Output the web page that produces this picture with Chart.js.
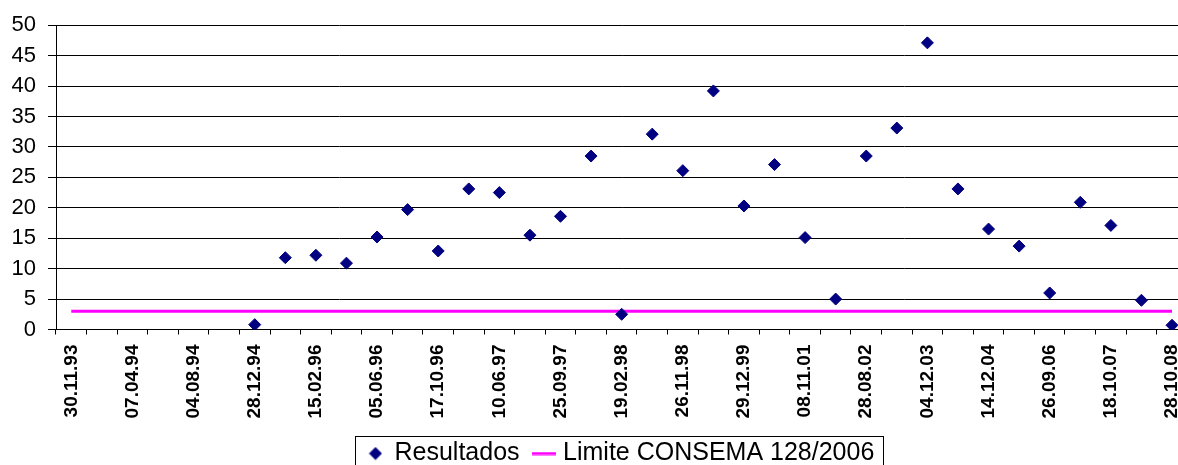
<!DOCTYPE html>
<html>
<head>
<meta charset="utf-8">
<script src="https://cdn.jsdelivr.net/npm/chart.js@4/dist/chart.umd.min.js"></script>
<style>
  html, body { margin: 0; padding: 0; background: #fff; overflow: hidden; }
  #wrap { width: 1178px; height: 465px; overflow: hidden; position: relative; }
  canvas { display: block; }
</style>
</head>
<body>
<div id="wrap"><canvas id="c" width="1205" height="473"></canvas></div>
<script>
// Sampling dates (only every second one is printed on the axis)
const dates = [
  '30.11.93', '', '07.04.94', '', '04.08.94', '', '28.12.94', '', '15.02.96', '',
  '05.06.96', '', '17.10.96', '', '10.06.97', '', '25.09.97', '', '19.02.98', '',
  '26.11.98', '', '29.12.99', '', '08.11.01', '', '28.08.02', '', '04.12.03', '',
  '14.12.04', '', '26.09.06', '', '18.10.07', '', '28.10.08'
];

// Measured results
const resultados = [
  null, null, null, null, null, null, 0.8, 11.8, 12.2, 10.9,
  15.2, 19.7, 12.9, 23.1, 22.5, 15.5, 18.6, 28.5, 2.5, 32.1,
  26.1, 39.2, 20.3, 27.1, 15.1, 5.0, 28.5, 33.1, 47.1, 23.1,
  16.5, 13.7, 6.0, 20.9, 17.1, 4.8, 0.7
];

// Legal limit (CONSEMA 128/2006)
const limite = [
  3, 3, 3, 3, 3, 3, 3, 3, 3, 3,
  3, 3, 3, 3, 3, 3, 3, 3, 3, 3,
  3, 3, 3, 3, 3, 3, 3, 3, 3, 3,
  3, 3, 3, 3, 3, 3, 3
];

const yTicks = { min: 0, max: 50, step: 5 };

const NAVY = '#000080';
const MAGENTA = '#FF00FF';

// Small legend symbols
function diamondSymbol() {
  const c = document.createElement('canvas');
  c.width = 14; c.height = 14;
  const g = c.getContext('2d');
  g.fillStyle = NAVY;
  g.beginPath();
  g.moveTo(7, 0.5); g.lineTo(13.5, 7); g.lineTo(7, 13.5); g.lineTo(0.5, 7);
  g.closePath(); g.fill();
  return c;
}
function lineSymbol() {
  const c = document.createElement('canvas');
  c.width = 24; c.height = 4;
  const g = c.getContext('2d');
  g.fillStyle = MAGENTA;
  g.fillRect(0, 0.5, 24, 3);
  return c;
}
const legendSymbols = [diamondSymbol(), lineSymbol()];

// Frame around the legend items
const legendFrame = {
  id: 'legendFrame',
  afterDraw(chart) {
    const lg = chart.legend;
    if (!lg || !lg.legendHitBoxes || !lg.legendHitBoxes.length) return;
    const hb = lg.legendHitBoxes;
    const first = hb[0], last = hb[hb.length - 1];
    const left = Math.round(first.left - 14) + 0.5;
    const right = Math.round(last.left + last.width + 9) + 0.5;
    const top = Math.round(first.top - 5) + 0.5;
    const ctx = chart.ctx;
    ctx.save();
    ctx.strokeStyle = '#000';
    ctx.lineWidth = 1;
    ctx.strokeRect(left, top, right - left, 60);
    ctx.restore();
  }
};

new Chart(document.getElementById('c'), {
  type: 'line',
  data: {
    labels: dates,
    datasets: [
      {
        label: 'Resultados',
        data: resultados,
        showLine: false,
        pointStyle: 'rectRot',
        pointRadius: 6,
        pointBorderWidth: 1,
        pointBackgroundColor: NAVY,
        pointBorderColor: NAVY,
        backgroundColor: NAVY,
        borderColor: NAVY
      },
      {
        label: 'Limite CONSEMA 128/2006',
        data: limite,
        borderColor: MAGENTA,
        backgroundColor: MAGENTA,
        borderWidth: 3,
        pointRadius: 0,
        fill: false,
        tension: 0
      }
    ]
  },
  options: {
    responsive: false,
    animation: false,
    devicePixelRatio: 1,
    events: [],
    layout: { padding: { top: 23, right: 14, left: 0, bottom: 0 } },
    scales: {
      x: {
        type: 'category',
        offset: true,
        grid: {
          offset: true,
          drawOnChartArea: false,
          drawTicks: true,
          tickLength: 5,
          color: '#000'
        },
        border: { display: true, color: '#000', width: 1 },
        ticks: {
          autoSkip: false,
          minRotation: 90,
          maxRotation: 90,
          padding: 10,
          color: '#000',
          font: { family: '"Liberation Sans", Arial, sans-serif', size: 19, weight: 'bold' }
        },
        afterFit(scale) { scale.height = 93.5; }
      },
      y: {
        min: yTicks.min,
        max: yTicks.max,
        grid: {
          color: '#000',
          lineWidth: 1,
          drawTicks: true,
          tickLength: 8
        },
        border: { display: true, color: '#000', width: 1 },
        ticks: {
          stepSize: yTicks.step,
          padding: 12,
          color: '#000',
          font: { family: 'Tahoma, "Liberation Sans", Arial, sans-serif', size: 22 }
        },
        afterFit(scale) { scale.width = 56; }
      }
    },
    plugins: {
      tooltip: { enabled: false },
      legend: {
        display: true,
        position: 'bottom',
        fullSize: false,
        maxHeight: 50,
        labels: {
          usePointStyle: true,
          boxWidth: 13,
          boxHeight: 13,
          padding: 18,
          color: '#000',
          font: { family: '"Liberation Sans", Arial, sans-serif', size: 25 },
          generateLabels(chart) {
            const items = Chart.defaults.plugins.legend.labels.generateLabels(chart);
            items.forEach((it, i) => { it.pointStyle = legendSymbols[i]; });
            return items;
          }
        }
      }
    }
  },
  plugins: [legendFrame]
});
</script>
</body>
</html>
